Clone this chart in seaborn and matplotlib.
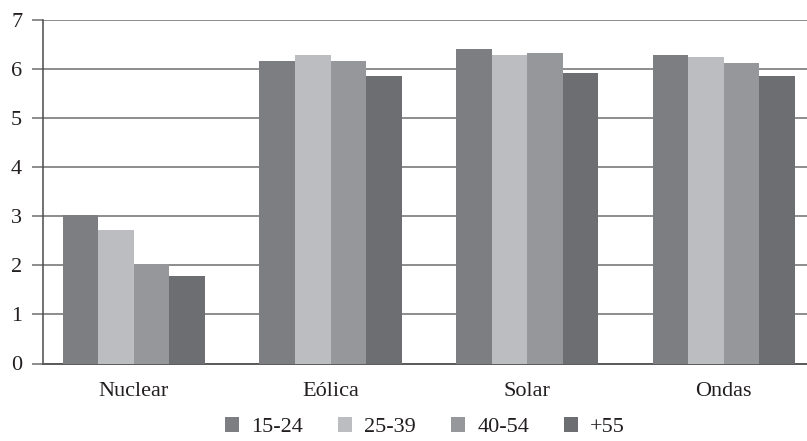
import numpy as np
import matplotlib
matplotlib.use("Agg")
import matplotlib.pyplot as plt
import pandas as pd
import seaborn as sns

# Chart values
categories = ["Nuclear", "Eólica", "Solar", "Ondas"]
age_groups = ["15-24", "25-39", "40-54", "+55"]
values_15_24 = [3.03, 6.16, 6.41, 6.28]
values_25_39 = [2.73, 6.29, 6.29, 6.24]
values_40_54 = [2.03, 6.16, 6.33, 6.13]
values_55 = [1.78, 5.86, 5.93, 5.85]
y_ticks = [0, 1, 2, 3, 4, 5, 6, 7]

colors = ["#7d7e82", "#bcbdc1", "#96979b", "#6d6e72"]

sns.set_theme(style="white")
plt.rcParams["font.family"] = ["Liberation Serif", "DejaVu Serif"]
plt.rcParams["font.size"] = 16

# Long format table for seaborn
df = pd.DataFrame({
    "category": categories * 4,
    "group": [g for g in age_groups for _ in categories],
    "value": values_15_24 + values_25_39 + values_40_54 + values_55,
})

fig = plt.figure(figsize=(8.07, 4.41), dpi=100)
ax = fig.add_axes([43 / 807, 1 - 363.5 / 441, 1 - 43 / 807, 343.5 / 441])

sns.barplot(
    data=df,
    x="category",
    y="value",
    hue="group",
    order=categories,
    hue_order=age_groups,
    palette=colors,
    width=0.7234,
    gap=0,
    saturation=1,
    linewidth=0,
    errorbar=None,
    ax=ax,
    zorder=3,
)

# Axis limits and grid
ax.set_xlim(-0.462, 3.423)
ax.set_ylim(0, 7)
ax.set_yticks(y_ticks)
ax.set_yticklabels([str(t) for t in y_ticks])
ax.yaxis.grid(True, color="#6e6e6e", linewidth=1.1, zorder=0)
ax.xaxis.grid(False)
ax.set_axisbelow(True)

for side in ["top", "right"]:
    ax.spines[side].set_visible(False)
ax.spines["left"].set_color("#4a4a4a")
ax.spines["left"].set_linewidth(1.1)
ax.spines["bottom"].set_color("#5a5a5a")
ax.spines["bottom"].set_linewidth(1.4)

ax.tick_params(axis="y", which="major", left=True, length=8, width=1.1,
               color="#6e6e6e", pad=7, labelsize=16, labelcolor="#231f20")
ax.tick_params(axis="x", bottom=False, pad=7, labelsize=16, labelcolor="#231f20")
ax.set_xlabel(None)
ax.set_ylabel(None)

# Legend below the chart, centred under the plot area
handles, labels = ax.get_legend_handles_labels()
ax.get_legend().remove()
ax.legend(
    handles,
    labels,
    loc="center",
    bbox_to_anchor=(0.5, -(427 - 363.5) / 343.5),
    ncol=4,
    frameon=False,
    handlelength=0.65,
    handleheight=0.65,
    handletextpad=0.55,
    columnspacing=1.55,
    fontsize=16,
    labelcolor="#231f20",
)

fig.savefig("out.png", dpi=100)
